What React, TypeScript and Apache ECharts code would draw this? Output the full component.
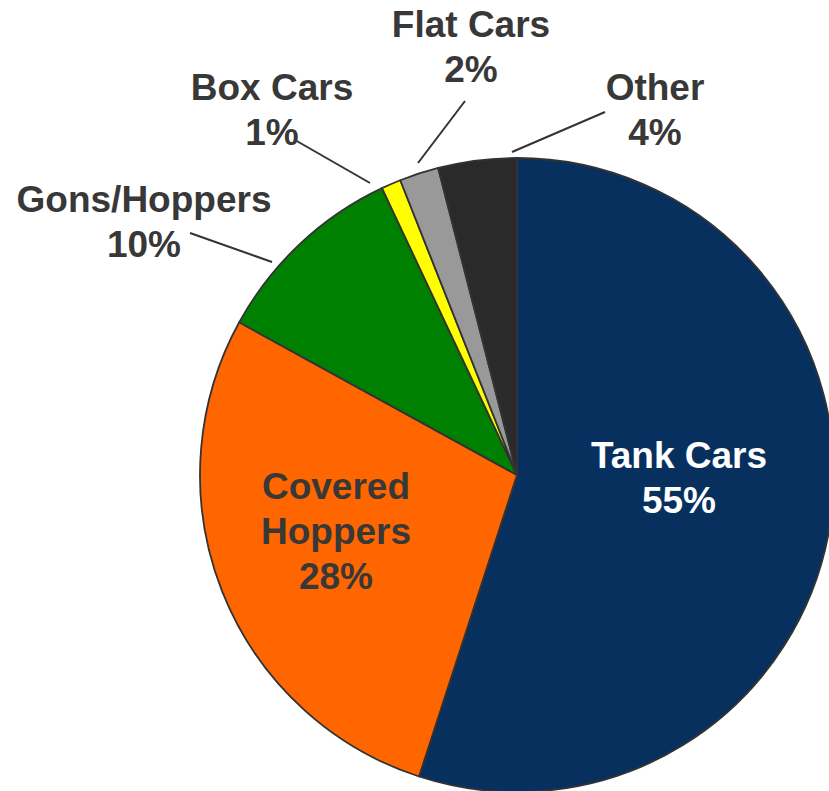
import React, { useEffect, useRef } from "react";
import * as echarts from "echarts";

const CATEGORIES = ["Tank Cars", "Covered Hoppers", "Gons/Hoppers", "Box Cars", "Flat Cars", "Other"];
const VALUES = [55, 28, 10, 1, 2, 4];
const COLORS = ["#07305f", "#ff6600", "#008000", "#ffff00", "#999999", "#2a2a2a"];
const INSIDE = ["Tank Cars", "Covered Hoppers"];
const LABEL_TEXTS = ["Tank Cars", "Covered\nHoppers", "Gons/Hoppers", "Box Cars", "Flat Cars", "Other"];

// label layout (positions only)
const LABEL_POS: Record<string, { x: number; y: number; line?: number[][] }> = {
  "Tank Cars": { x: 679, y: 478 },
  "Covered Hoppers": { x: 336, y: 531 },
  "Gons/Hoppers": { x: 144, y: 222, line: [[272, 262], [190, 233]] },
  "Box Cars": { x: 272, y: 110, line: [[370, 183], [295, 140]] },
  "Flat Cars": { x: 471, y: 47, line: [[418, 163], [465, 101]] },
  "Other": { x: 655, y: 110, line: [[512, 152], [605, 112]] },
};

export default function App() {
  const ref = useRef<HTMLDivElement>(null);
  useEffect(() => {
    if (!ref.current) return;
    const chart = echarts.init(ref.current, null, { renderer: "svg" });
    const data = CATEGORIES.map((name, i) => {
      const inside = INSIDE.includes(name);
      return {
        name,
        value: VALUES[i],
        itemStyle: { color: COLORS[i] },
        label: inside
          ? { position: "inside", color: name === "Tank Cars" ? "#ffffff" : "#383838" }
          : { position: "outside", color: "#383838" },
        labelLine: { show: !inside },
      };
    });
    chart.setOption({
      animation: false,
      series: [
        {
          type: "pie",
          center: [517, 475],
          radius: 317,
          startAngle: 90,
          clockwise: true,
          avoidLabelOverlap: false,
          itemStyle: { borderColor: "#333333", borderWidth: 1.8 },
          label: {
            show: true,
            fontFamily: "'Liberation Sans', Arial, sans-serif",
            fontWeight: "bold",
            fontSize: 37,
            lineHeight: 45,
            align: "center",
            formatter: (p: any) => `${LABEL_TEXTS[p.dataIndex]}\n${p.value}%`,
          },
          labelLine: {
            show: true,
            length: 10,
            length2: 10,
            lineStyle: { color: "#333333", width: 2 },
          },
          labelLayout: (params: any) => {
            const p = LABEL_POS[CATEGORIES[params.dataIndex]];
            const out: any = { x: p.x, y: p.y, align: "center", verticalAlign: "middle" };
            if (p.line) out.labelLinePoints = p.line;
            return out;
          },
          emphasis: { disabled: true },
          data,
        },
      ],
    });
    return () => chart.dispose();
  }, []);
  return (
    <div
      ref={ref}
      style={{ position: "fixed", left: 0, top: 0, width: 829, height: 791, background: "#ffffff" }}
    />
  );
}
